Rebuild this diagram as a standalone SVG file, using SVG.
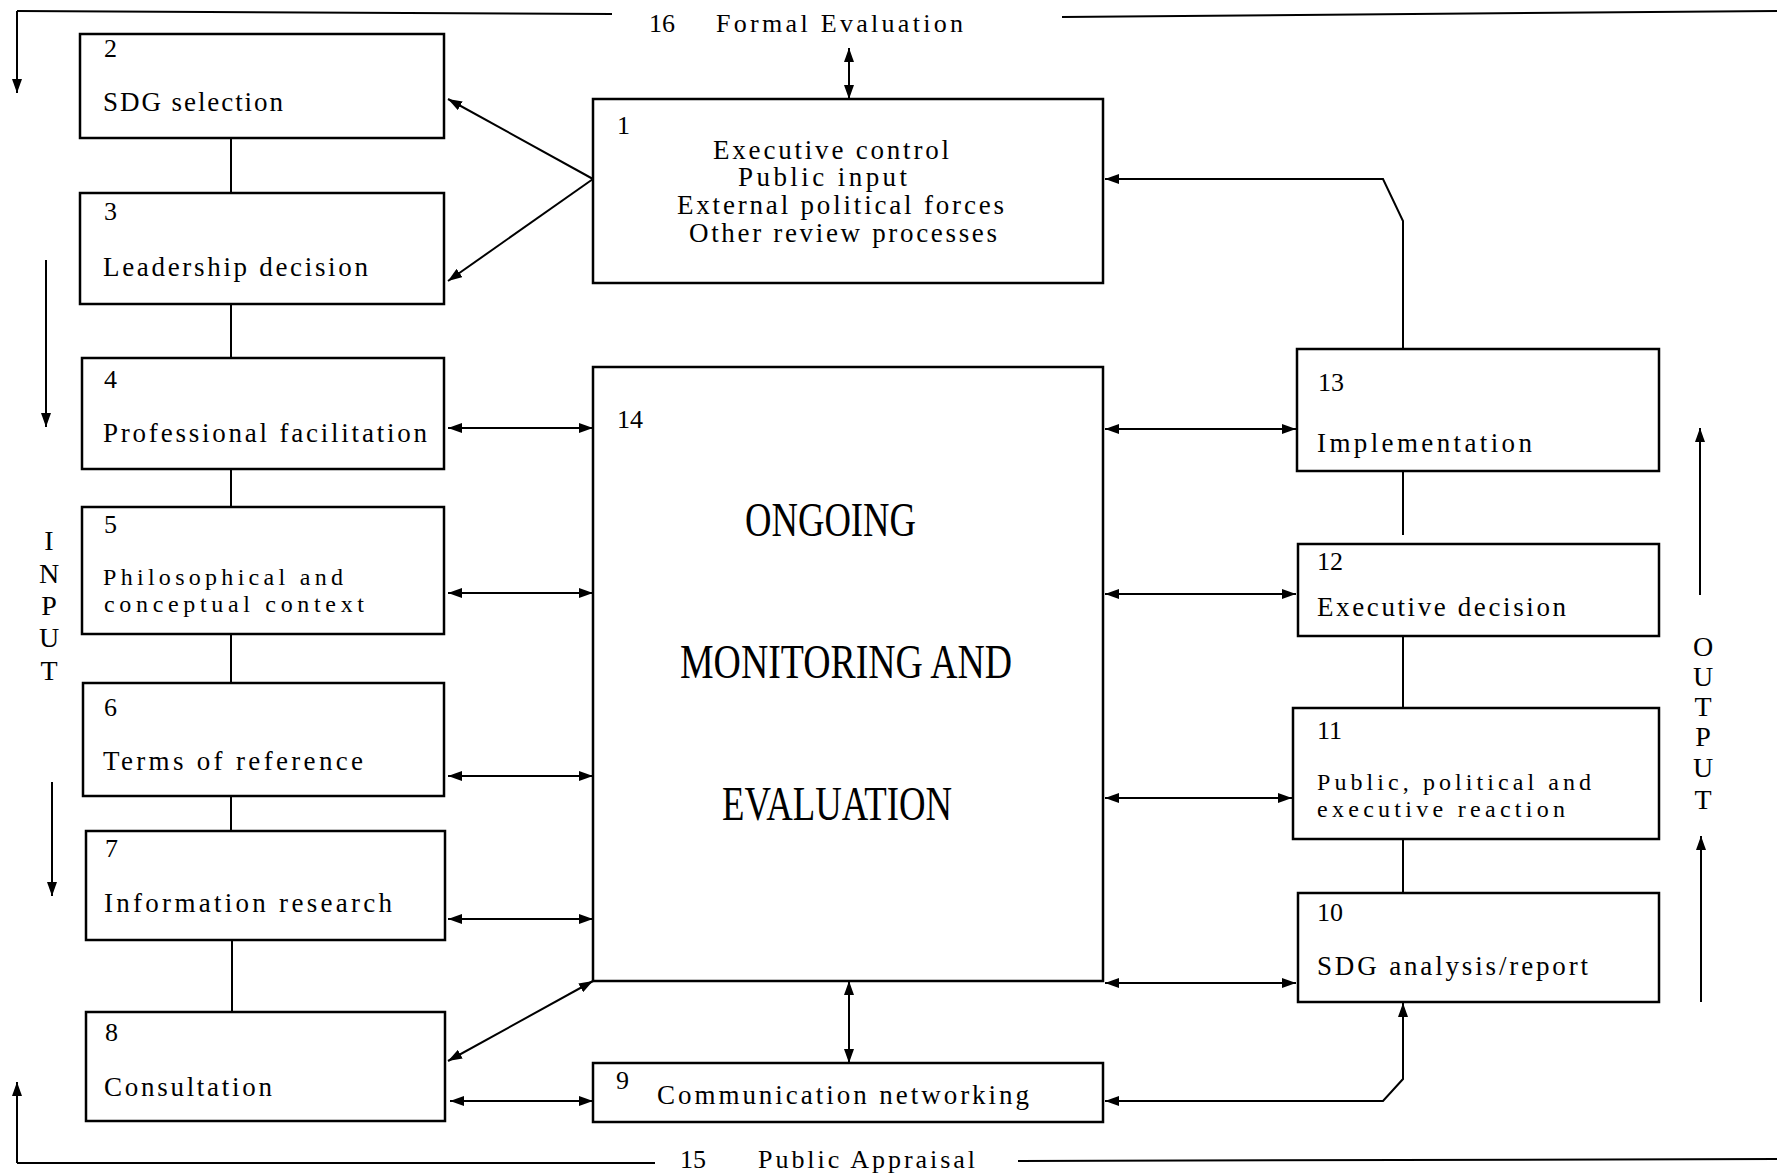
<svg xmlns="http://www.w3.org/2000/svg" width="1777" height="1174" viewBox="0 0 1777 1174">
<style>
rect.box{fill:#fff;stroke:#000;stroke-width:2.5}
.c line,.c path,.c polyline{stroke:#000;stroke-width:2;fill:none}
text{font-family:"Liberation Serif","Times New Roman",serif;fill:#000}
.n{font-size:26px}
.t{font-size:27px}
.t2{font-size:24px}
.big{font-size:48px}
.lab{font-size:26px}
.vert{font-size:28px;text-anchor:middle}
</style>
<defs>
<marker id="ah" viewBox="0 0 14 10" refX="14" refY="5" markerWidth="14" markerHeight="10" markerUnits="userSpaceOnUse" orient="auto-start-reverse"><path d="M0,0 L14,5 L0,10 z" fill="#000"/></marker>
</defs>
<rect width="1777" height="1174" fill="#fff"/>

<g class="c" id="connectors">
<line x1="17" y1="11" x2="612" y2="14"/>
<line x1="1062" y1="17" x2="1777" y2="11"/>
<line x1="17" y1="11" x2="17" y2="93" marker-end="url(#ah)"/>
<line x1="17" y1="1163" x2="655" y2="1163"/>
<line x1="1018" y1="1161" x2="1777" y2="1159"/>
<line x1="17" y1="1163" x2="17" y2="1082" marker-end="url(#ah)"/>
<line x1="46" y1="260" x2="46" y2="427" marker-end="url(#ah)"/>
<line x1="52" y1="782" x2="52" y2="896" marker-end="url(#ah)"/>
<line x1="1700" y1="595" x2="1700" y2="428" marker-end="url(#ah)"/>
<line x1="1701" y1="1002" x2="1701" y2="836" marker-end="url(#ah)"/>
<line x1="231" y1="138" x2="231" y2="193"/>
<line x1="231" y1="304" x2="231" y2="358"/>
<line x1="231" y1="469" x2="231" y2="507"/>
<line x1="231" y1="634" x2="231" y2="683"/>
<line x1="231" y1="796" x2="231" y2="831"/>
<line x1="232" y1="940" x2="232" y2="1012"/>
<line x1="1403" y1="471" x2="1403" y2="535"/>
<line x1="1403" y1="636" x2="1403" y2="708"/>
<line x1="1403" y1="839" x2="1403" y2="893"/>
<line x1="593" y1="179" x2="448" y2="99" marker-end="url(#ah)"/>
<line x1="593" y1="179" x2="448" y2="281" marker-end="url(#ah)"/>
<line x1="849" y1="48" x2="849" y2="99" marker-start="url(#ah)" marker-end="url(#ah)"/>
<line x1="448" y1="428" x2="593" y2="428" marker-start="url(#ah)" marker-end="url(#ah)"/>
<line x1="448" y1="593" x2="593" y2="593" marker-start="url(#ah)" marker-end="url(#ah)"/>
<line x1="448" y1="776" x2="593" y2="776" marker-start="url(#ah)" marker-end="url(#ah)"/>
<line x1="448" y1="919" x2="593" y2="919" marker-start="url(#ah)" marker-end="url(#ah)"/>
<line x1="448" y1="1061" x2="593" y2="981" marker-start="url(#ah)" marker-end="url(#ah)"/>
<line x1="450" y1="1101" x2="593" y2="1101" marker-start="url(#ah)" marker-end="url(#ah)"/>
<line x1="849" y1="981" x2="849" y2="1063" marker-start="url(#ah)" marker-end="url(#ah)"/>
<line x1="1105" y1="429" x2="1296" y2="429" marker-start="url(#ah)" marker-end="url(#ah)"/>
<line x1="1105" y1="594" x2="1296" y2="594" marker-start="url(#ah)" marker-end="url(#ah)"/>
<line x1="1105" y1="798" x2="1292" y2="798" marker-start="url(#ah)" marker-end="url(#ah)"/>
<line x1="1105" y1="983" x2="1296" y2="983" marker-start="url(#ah)" marker-end="url(#ah)"/>
<polyline points="1403,349 1403,221 1383,179 1105,179" marker-end="url(#ah)"/>
<polyline points="1105,1101 1383,1101 1403,1079 1403,1003" marker-start="url(#ah)" marker-end="url(#ah)"/>
</g>

<g id="label16">
<text class="lab" x="649" y="32">16</text>
<text class="lab" x="716" y="32" textLength="247" lengthAdjust="spacing">Formal Evaluation</text>
</g>
<g id="label15">
<text class="lab" x="680" y="1168">15</text>
<text class="lab" x="758" y="1168" textLength="217" lengthAdjust="spacing">Public Appraisal</text>
</g>
<g id="input-label">
<text class="vert" x="49" y="550">I</text>
<text class="vert" x="49" y="583">N</text>
<text class="vert" x="49" y="615">P</text>
<text class="vert" x="49" y="647">U</text>
<text class="vert" x="49" y="680">T</text>
</g>
<g id="output-label">
<text class="vert" x="1703" y="656">O</text>
<text class="vert" x="1703" y="686">U</text>
<text class="vert" x="1703" y="716">T</text>
<text class="vert" x="1703" y="746">P</text>
<text class="vert" x="1703" y="777">U</text>
<text class="vert" x="1703" y="809">T</text>
</g>

<g id="node1">
<rect class="box" x="593" y="99" width="510" height="184"/>
<text class="n" x="617" y="134">1</text>
<text class="t" x="713" y="159" textLength="236" lengthAdjust="spacing">Executive control</text>
<text class="t" x="738" y="186" textLength="169" lengthAdjust="spacing">Public input</text>
<text class="t" x="677" y="214" textLength="327" lengthAdjust="spacing">External political forces</text>
<text class="t" x="689" y="242" textLength="308" lengthAdjust="spacing">Other review processes</text>
</g>
<g id="node2">
<rect class="box" x="80" y="34" width="364" height="104"/>
<text class="n" x="104" y="57">2</text>
<text class="t" x="103" y="111" textLength="180" lengthAdjust="spacing">SDG selection</text>
</g>
<g id="node3">
<rect class="box" x="80" y="193" width="364" height="111"/>
<text class="n" x="104" y="220">3</text>
<text class="t" x="103" y="276" textLength="265" lengthAdjust="spacing">Leadership decision</text>
</g>
<g id="node4">
<rect class="box" x="82" y="358" width="362" height="111"/>
<text class="n" x="104" y="388">4</text>
<text class="t" x="103" y="442" textLength="324" lengthAdjust="spacing">Professional facilitation</text>
</g>
<g id="node5">
<rect class="box" x="82" y="507" width="362" height="127"/>
<text class="n" x="104" y="533">5</text>
<text class="t2" x="103" y="585" textLength="240" lengthAdjust="spacing">Philosophical and</text>
<text class="t2" x="104" y="612" textLength="260" lengthAdjust="spacing">conceptual context</text>
</g>
<g id="node6">
<rect class="box" x="83" y="683" width="361" height="113"/>
<text class="n" x="104" y="716">6</text>
<text class="t" x="103" y="770" textLength="260" lengthAdjust="spacing">Terms of reference</text>
</g>
<g id="node7">
<rect class="box" x="86" y="831" width="359" height="109"/>
<text class="n" x="105" y="857">7</text>
<text class="t" x="104" y="912" textLength="288" lengthAdjust="spacing">Information research</text>
</g>
<g id="node8">
<rect class="box" x="86" y="1012" width="359" height="109"/>
<text class="n" x="105" y="1041">8</text>
<text class="t" x="104" y="1096" textLength="168" lengthAdjust="spacing">Consultation</text>
</g>
<g id="node9">
<rect class="box" x="593" y="1063" width="510" height="59"/>
<text class="n" x="616" y="1089">9</text>
<text class="t" x="657" y="1104" textLength="372" lengthAdjust="spacing">Communication networking</text>
</g>
<g id="node10">
<rect class="box" x="1298" y="893" width="361" height="109"/>
<text class="n" x="1317" y="921">10</text>
<text class="t" x="1317" y="975" textLength="271" lengthAdjust="spacing">SDG analysis/report</text>
</g>
<g id="node11">
<rect class="box" x="1293" y="708" width="366" height="131"/>
<text class="n" x="1317" y="739">11</text>
<text class="t2" x="1317" y="790" textLength="274" lengthAdjust="spacing">Public, political and</text>
<text class="t2" x="1317" y="817" textLength="248" lengthAdjust="spacing">executive reaction</text>
</g>
<g id="node12">
<rect class="box" x="1298" y="544" width="361" height="92"/>
<text class="n" x="1317" y="570">12</text>
<text class="t" x="1317" y="616" textLength="249" lengthAdjust="spacing">Executive decision</text>
</g>
<g id="node13">
<rect class="box" x="1297" y="349" width="362" height="122"/>
<text class="n" x="1318" y="391">13</text>
<text class="t" x="1317" y="452" textLength="215" lengthAdjust="spacing">Implementation</text>
</g>
<g id="node14">
<rect class="box" x="593" y="367" width="510" height="614"/>
<text class="n" x="617" y="428">14</text>
<text class="big" x="745" y="536" textLength="171" lengthAdjust="spacingAndGlyphs">ONGOING</text>
<text class="big" x="680" y="678" textLength="332" lengthAdjust="spacingAndGlyphs">MONITORING AND</text>
<text class="big" x="722" y="820" textLength="230" lengthAdjust="spacingAndGlyphs">EVALUATION</text>
</g>
</svg>
